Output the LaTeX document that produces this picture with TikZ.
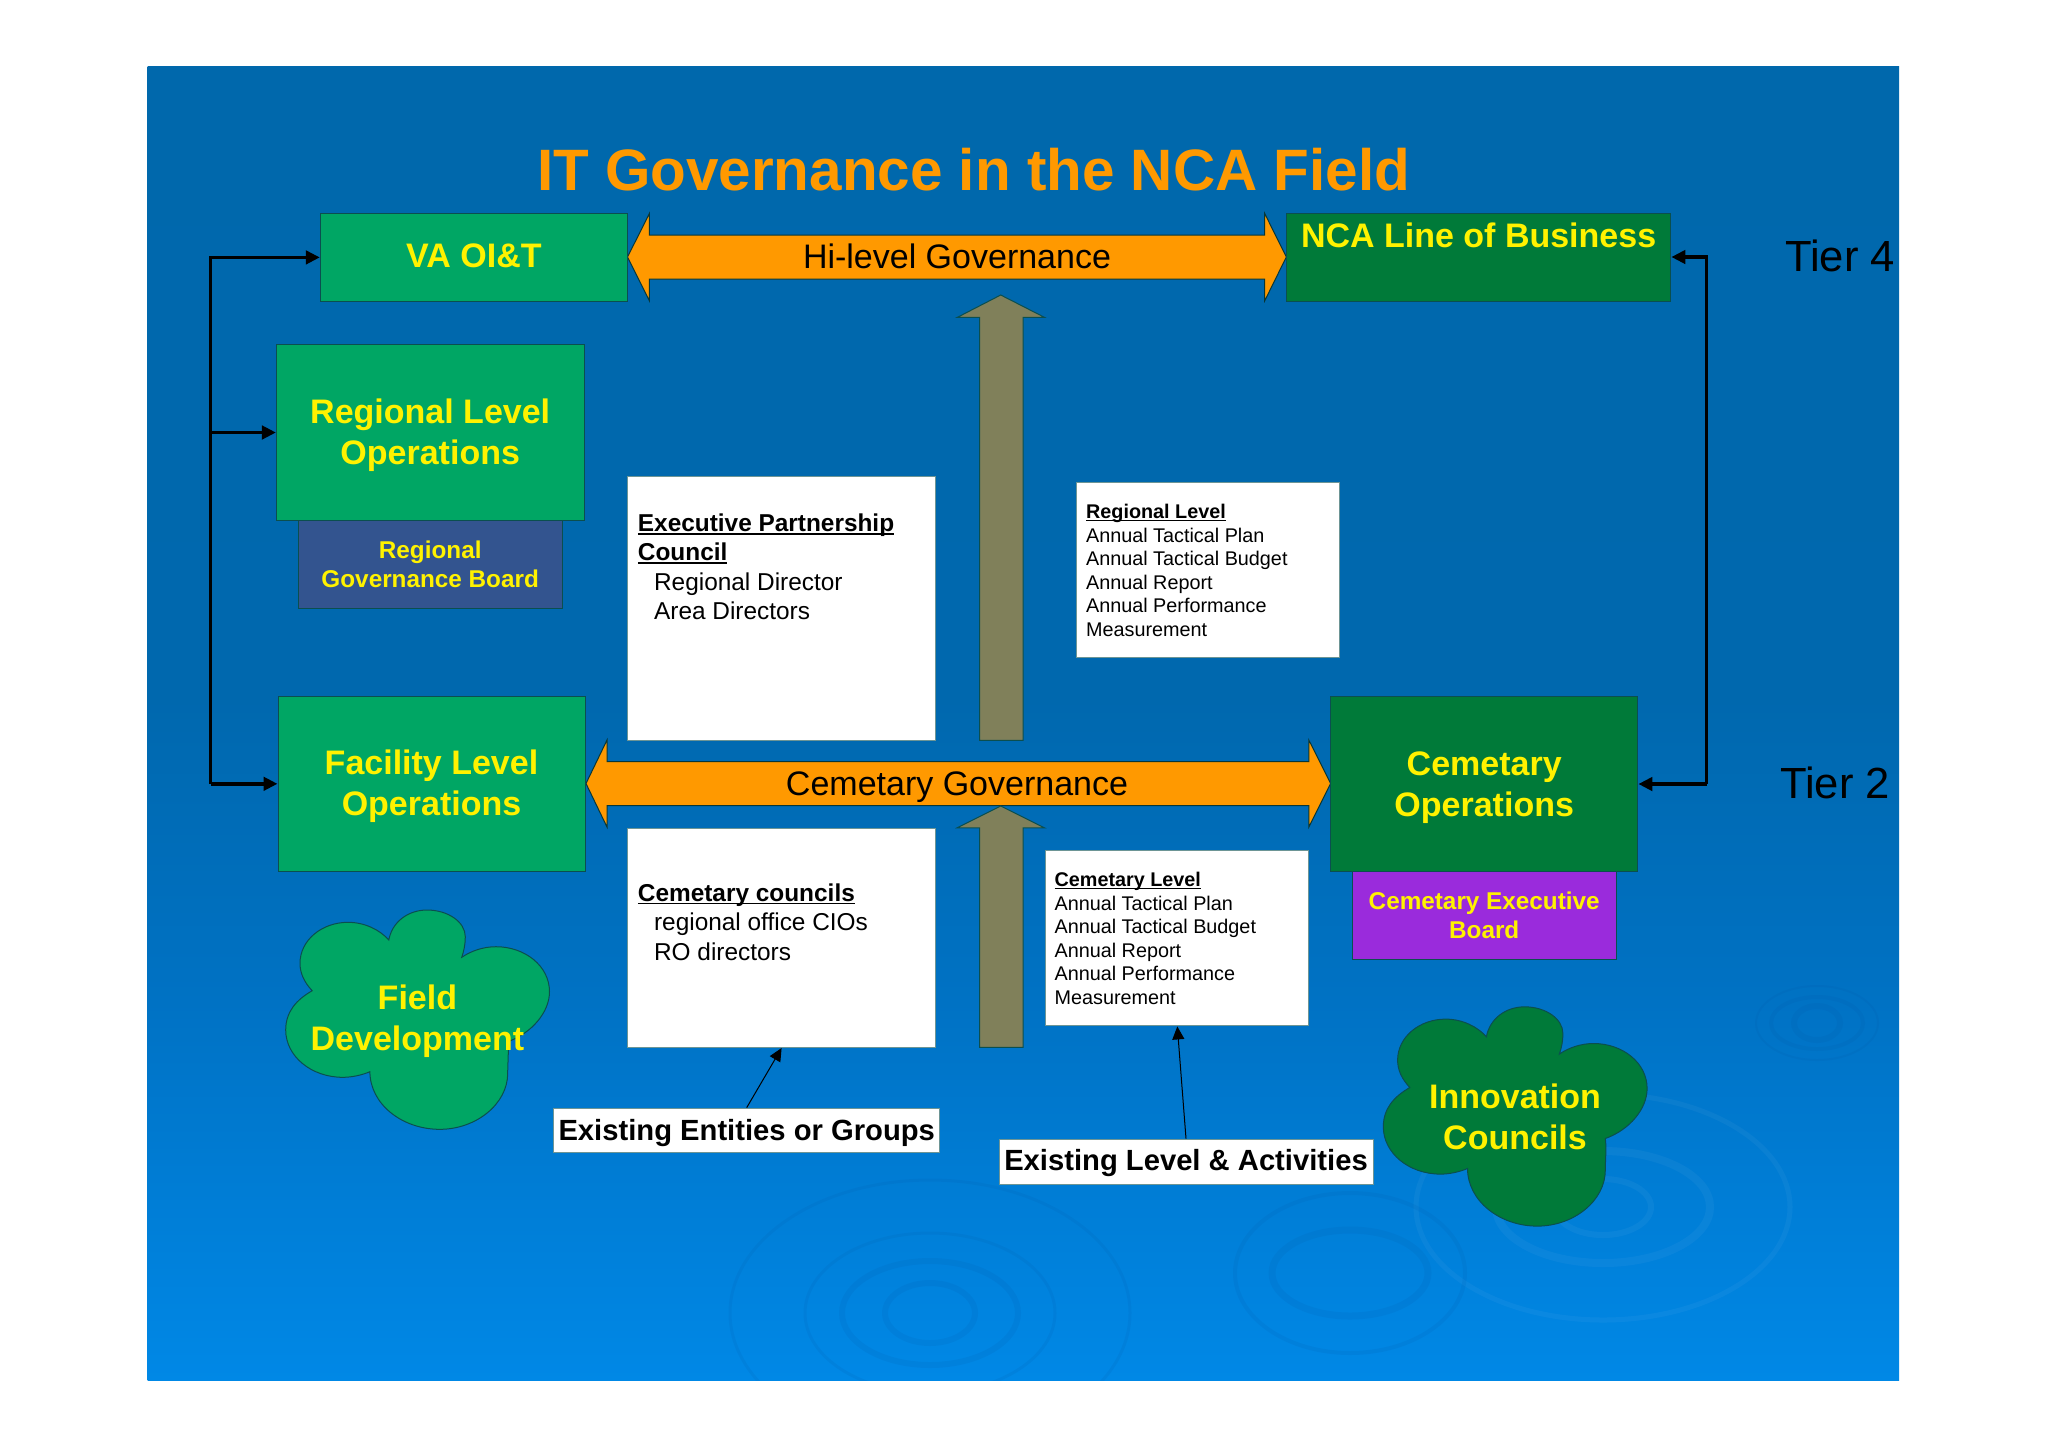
\documentclass[tikz,border=0pt]{standalone}
\usepackage{fontspec}
\setmainfont{Liberation Sans}
\usetikzlibrary{arrows.meta}
\definecolor{bgA}{HTML}{0088E6}
\definecolor{bgB}{HTML}{0072C4}
\definecolor{bgC}{HTML}{0068AE}
\definecolor{bgD}{HTML}{0068AC}
\definecolor{greenA}{HTML}{00A664}
\definecolor{greenB}{HTML}{007A39}
\definecolor{boardA}{HTML}{33548F}
\definecolor{boardB}{HTML}{9A2BDC}
\definecolor{orangeA}{HTML}{FF9900}
\definecolor{oliveA}{HTML}{80805A}
\definecolor{edgeA}{HTML}{0B4F4F}
\definecolor{ringA}{HTML}{00509E}
\pgfdeclareverticalshading{bgsh}{100bp}{color(0bp)=(bgA); color(25bp)=(bgA); color(39.4bp)=(bgB); color(51bp)=(bgC); color(75bp)=(bgD); color(100bp)=(bgD)}
\newcommand{\cloudshape}{(388.8,940) .. controls (392,922) and (408,910) .. (427,910)
 .. controls (448,910) and (465.3,922) .. (465.3,936.7)
 .. controls (465.3,944) and (464,951) .. (461.7,957.3)
 .. controls (471,951) and (483,946.7) .. (496,946.7)
 .. controls (525,946.7) and (549.5,966) .. (549.5,991.7)
 .. controls (549.5,1012) and (532,1033) .. (507.7,1041.7)
 .. controls (509,1052) and (507.7,1062) .. (507.7,1073.3)
 .. controls (507.7,1104) and (476,1129.3) .. (439.8,1129.3)
 .. controls (402,1129.3) and (370,1104) .. (369.9,1071.7)
 .. controls (362,1075) and (352,1077.3) .. (342.9,1077.3)
 .. controls (311,1077.3) and (285.7,1056) .. (285.7,1030)
 .. controls (285.7,1012) and (296,1000) .. (312.2,990.7)
 .. controls (304,982) and (300,973) .. (300,963.3)
 .. controls (300,940) and (322,922.3) .. (348,922.3)
 .. controls (365,922.3) and (380,930) .. (388.8,940) -- cycle}
\newcommand{\ulx}[1]{\setbox0\hbox{#1}\rlap{\rule[-0.13em]{\wd0}{0.07em}}#1}
\newcommand{\dnrule}[1]{\rule{0pt}{#1}}
\tikzset{
 x=0.5pt,y=-0.5pt,
 block/.style={draw=edgeA,line width=0.5pt,inner sep=0pt,align=center,text=yellow,font=\bfseries\fontsize{17}{20.5}\selectfont},
 board/.style={block,font=\bfseries\fontsize{12.15}{14.4}\selectfont},
 whitebox/.style={draw=edgeA!60!white,line width=0.4pt,fill=white,inner sep=0pt,text=black},
 tag/.style={whitebox,font=\bfseries\fontsize{14.6}{17}\selectfont},
 bigarrow/.style={draw=edgeA!70!black,line width=0.5pt,fill=orangeA},
 uparrow/.style={draw=edgeA,line width=0.5pt,fill=oliveA},
 cloud/.style={draw=edgeA,line width=0.5pt},
 conn/.style={draw=black,line width=1.7pt,-{Triangle[length=7pt,width=6.7pt]}},
 thinconn/.style={draw=black,line width=0.5pt,-{Triangle[length=6.5pt,width=6pt]}},
 arrowlabel/.style={inner sep=0pt,text=black,font=\fontsize{17}{19}\selectfont},
 tier/.style={inner sep=0pt,text=black,font=\fontsize{21.8}{24}\selectfont},
 darkring/.style={draw=ringA,opacity=0.10,line width=#1},
 lightring/.style={draw=white,opacity=0.04,line width=#1}
}
\begin{document}
\begin{tikzpicture}
\useasboundingbox (0,0) rectangle (2048,1447);
\fill[white] (0,0) rectangle (2048,1447);
\shade[shading=bgsh] (147.5,66.5) rectangle (1899,1380.5);
% ripples in the slide background
\begin{scope}
\clip (147.5,66.5) rectangle (1899,1380.5);
\foreach \a/\b/\w in {23/17/3pt,46/26/2pt,61/37/1pt}{\draw[darkring=\w] (1817,1023) ellipse ({\a} and {\b});}
\foreach \a/\b/\w in {48/28/3pt,107/56/4pt,187/113/2.5pt}{\draw[lightring=\w] (1603,1207) ellipse ({\a} and {\b});}
\foreach \a/\b/\w in {78/43/3.5pt,115/80/2pt}{\draw[darkring=\w] (1350,1273) ellipse ({\a} and {\b});}
\foreach \a/\b/\w in {45/30/3pt,88/52/3pt,125/80/1.5pt,200/133/1.5pt}{\draw[darkring=\w] (930,1313) ellipse ({\a} and {\b});}
\end{scope}

\node[inner sep=0pt,text=orangeA,font=\bfseries\fontsize{29.2}{32}\selectfont] (title) at (973.5,169.6) {IT Governance in the NCA Field};

% big double arrows
\draw[bigarrow] (627.5,257) -- (649.4,213.5) -- (649.4,235) -- (1264.7,235) -- (1264.7,213.5) -- (1286.3,257) -- (1264.7,300.8) -- (1264.7,279) -- (649.4,279) -- (649.4,300.8) -- cycle;
\draw[bigarrow] (586,783.5) -- (607,740) -- (607,761.7) -- (1308.8,761.7) -- (1308.8,740) -- (1330.6,783.5) -- (1308.8,827) -- (1308.8,805.6) -- (607,805.6) -- (607,827) -- cycle;
\node[arrowlabel] (hilevel) at (957,256) {Hi-level Governance};
\node[arrowlabel] (cemgov) at (957,787) {Cemetary Governance};

% olive up arrows
\draw[uparrow] (1000.7,295) -- (1044.6,317.4) -- (1023.2,317.4) -- (1023.2,740.3) -- (979.6,740.3) -- (979.6,317.4) -- (957.2,317.4) -- cycle;
\draw[uparrow] (1000.7,806) -- (1044.5,827.8) -- (1023.2,827.8) -- (1023.2,1047.3) -- (979.6,1047.3) -- (979.6,827.8) -- (957.2,827.8) -- cycle;

% blocks
\node[block,fill=greenA,minimum width=153.6pt,minimum height=44pt] (va) at (473.9,257.4) {\rule[-1.6pt]{0pt}{1.6pt}VA OI\&T};
\node[block,fill=greenA,minimum width=153.8pt,minimum height=87.8pt] (reg) at (430.2,432.5) {\dnrule{15.2pt}Regional Level\\Operations};
\node[board,fill=boardA,minimum width=131.8pt,minimum height=44.2pt] (rgb) at (430.2,564.5) {Regional\\Governance Board};
\node[block,fill=greenA,minimum width=153.5pt,minimum height=87.8pt] (fac) at (431.5,783.8) {\dnrule{15.2pt}Facility Level\\Operations};
\node[block,fill=greenB,minimum width=192.3pt,minimum height=44pt,anchor=center] (nca) at (1478.6,257) {\parbox[c][44pt][t]{192pt}{\centering\vspace*{5.1pt}NCA Line of Business}};
\node[block,fill=greenB,minimum width=153.7pt,minimum height=87.5pt] (cem) at (1484.2,784) {\dnrule{15.2pt}Cemetary\\Operations};
\node[board,fill=boardB,minimum width=131.8pt,minimum height=44pt] (ceb) at (1484.2,915.5) {Cemetary Executive\\Board};

% white text boxes
\node[whitebox,minimum width=153.8pt,minimum height=131.85pt] (epc) at (781.3,608.2) {\parbox[c][131.8pt][t]{143.4pt}{\fontsize{12.2}{14.7}\selectfont\vspace*{18.7pt}\textbf{\ulx{Executive Partnership}}\\\textbf{\ulx{Council}}\\\hspace*{8.1pt}Regional Director\\\hspace*{8.1pt}Area Directors}};
\node[whitebox,minimum width=153.8pt,minimum height=109.5pt] (cc) at (781.3,937.5) {\parbox[c][109.5pt][t]{143.4pt}{\fontsize{12.2}{14.7}\selectfont\vspace*{27.8pt}\textbf{\ulx{Cemetary councils}}\\\hspace*{8.1pt}regional office CIOs\\\hspace*{8.1pt}RO directors}};
\node[whitebox,minimum width=131.4pt,minimum height=87.9pt] (rl) at (1207.9,569.9) {\parbox[c][87.9pt][t]{121.8pt}{\fontsize{9.9}{11.75}\selectfont\vspace*{11.1pt}\textbf{\ulx{Regional Level}}\\Annual Tactical Plan\\Annual Tactical Budget\\Annual Report\\Annual Performance\\Measurement}};
\node[whitebox,minimum width=131.6pt,minimum height=87.75pt] (cl) at (1176.6,937.8) {\parbox[c][87.75pt][t]{122pt}{\fontsize{9.9}{11.75}\selectfont\vspace*{11.1pt}\textbf{\ulx{Cemetary Level}}\\Annual Tactical Plan\\Annual Tactical Budget\\Annual Report\\Annual Performance\\Measurement}};
\node[tag,minimum width=193.1pt,minimum height=22pt] (ee) at (746.7,1130) {\dnrule{13.2pt}Existing Entities or Groups};
\node[tag,minimum width=187pt,minimum height=22.5pt] (el) at (1186,1161.5) {\dnrule{12pt}Existing Level \& Activities};

% clouds
\fill[greenA] \cloudshape; \draw[cloud] \cloudshape;
\begin{scope}[shift={(1097.6,96.8)}]
\fill[greenB] \cloudshape; \draw[cloud] \cloudshape;
\end{scope}
\node[block,draw=none] (fd) at (417.4,1021) {Field\\Development};
\node[block,draw=none] (ic) at (1515,1117) {Innovation\\Councils};

% tier labels
\node[tier] (t4) at (1840,256) {Tier 4};
\node[tier] (t2) at (1835,783) {Tier 2};

% connectors
\coordinate (trunkL) at (210.6,783.8);
\coordinate (trunkR) at (1706.6,784);
\draw[conn] (trunkL) -- (fac.west);
\draw[conn] (trunkL |- reg.west) -- (reg.west);
\draw[conn] (trunkL) |- (va.west);
\draw[conn] (trunkR) -- (cem.east);
\draw[conn] (trunkR) |- (nca.east);
\coordinate (eetip) at (781.6,1048);
\coordinate (eltip) at (1177.3,1026.4);
\draw[thinconn] (ee.north) -- (eetip);
\draw[thinconn] (el.north) -- (eltip);
\end{tikzpicture}
\end{document}
